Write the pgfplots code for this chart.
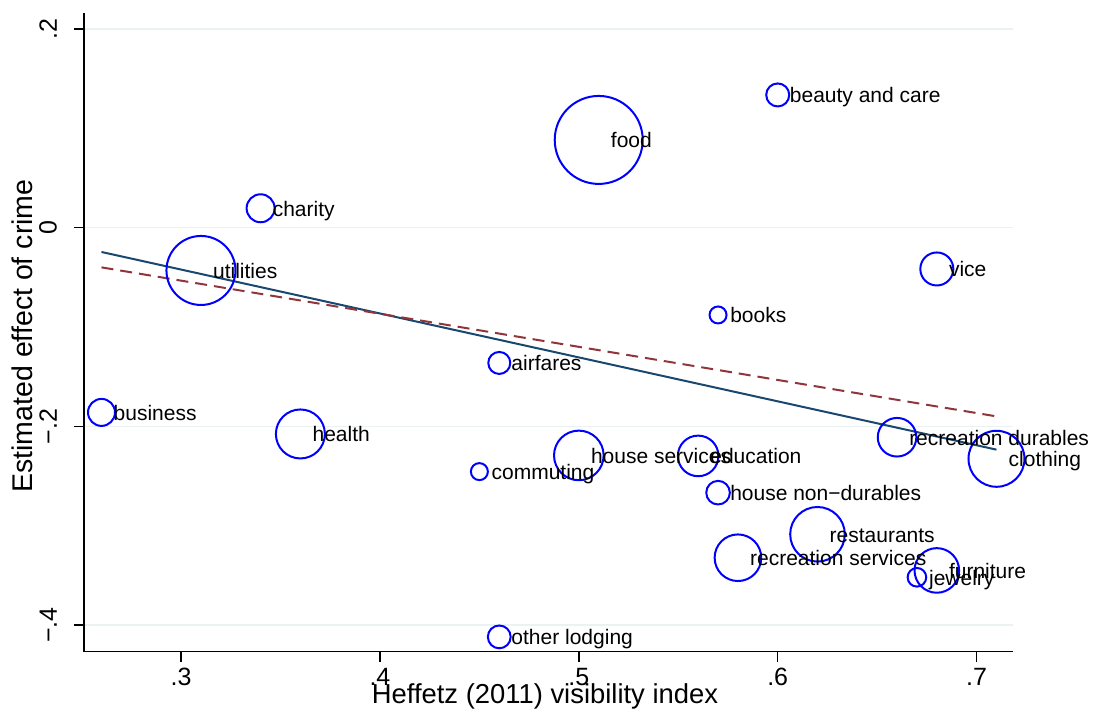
\documentclass[border=0pt]{standalone}
\usepackage{fontspec}
\setmainfont{Liberation Sans}
\usepackage{pgfplots}
\pgfplotsset{compat=1.18}
\usepackage{pgfplotstable}
\definecolor{stnavy}{RGB}{26,71,111}
\definecolor{stmaroon}{RGB}{144,53,59}
\definecolor{stgrid}{RGB}{234,242,243}
\definecolor{mblue}{RGB}{0,0,255}

\pgfplotstableread[col sep=comma]{
x,y,r,label
0.26,-0.186,13.5,business
0.36,-0.2077,24.5,health
0.31,-0.0431,34.5,utilities
0.34,0.0195,14,charity
0.51,0.0883,44,food
0.60,0.1336,11.5,beauty and care
0.68,-0.0416,16.5,vice
0.57,-0.0879,8.5,books
0.46,-0.1362,11,airfares
0.45,-0.2456,8.5,commuting
0.50,-0.2293,24.8,house services
0.56,-0.2298,20.3,education
0.57,-0.2668,11.8,house non−durables
0.66,-0.2110,19.3,recreation durables
0.71,-0.2327,28,clothing
0.62,-0.3087,27.3,restaurants
0.58,-0.3323,23.3,recreation services
0.68,-0.3451,22.3,furniture
0.67,-0.3520,9.3,jewelry
0.46,-0.4120,11.4,other lodging
}\cats

\begin{document}
\begin{tikzpicture}
\path[use as bounding box] (0,0) rectangle (1093pt,720pt);
\begin{axis}[
  at={(84pt,68.3pt)}, anchor=south west,
  scale only axis, width=929pt, height=639pt,
  xmin=0.2512, xmax=0.7183, ymin=-0.4269, ymax=0.2164,
  axis x line=bottom, axis y line=left,
  axis line style={-, line width=1.6pt, black},
  xtick={0.3,0.4,0.5,0.6,0.7}, xticklabels={.3,.4,.5,.6,.7},
  ytick={-0.4,-0.2,0,0.2}, yticklabels={−.4,−.2,0,.2},
  tick align=outside, major tick length=10pt,
  every tick/.style={black, line width=1.4pt},
  ymajorgrids, grid style={stgrid, line width=1.6pt},
  ticklabel style={font=\fontsize{25}{30}\selectfont},
  xticklabel style={anchor=north, inner sep=0pt, yshift=-6pt},
  yticklabel style={rotate=90, anchor=south, inner sep=0pt, yshift=17pt},
  xlabel={Heffetz (2011) visibility index},
  ylabel={Estimated effect of crime},
  xlabel style={font=\fontsize{27.4}{32}\selectfont, at={(axis description cs:0.4962,-0.0803)}, anchor=base, inner sep=0pt},
  ylabel style={font=\fontsize{28.5}{32}\selectfont, at={(axis description cs:-0.0549,0.494)}, anchor=base, inner sep=0pt},
  clip=false,
]
\addplot[scatter, only marks, mark=o,
  scatter/use mapped color={draw=mblue, fill=none},
  mark options={line width=2pt},
  point meta=explicit, point meta min=0, point meta max=1000,
  scatter/@pre marker code/.append style={/tikz/mark size=\pgfplotspointmetatransformed pt},
] table[x=x, y=y, meta=r] {\cats};
\addplot[only marks, mark=none,
  point meta=explicit symbolic,
  nodes near coords,
  every node near coord/.append style={anchor=base west, xshift=12pt, yshift=-8pt, font=\fontsize{21}{25}\selectfont, text=black, inner sep=0pt},
] table[x=x, y=y, meta=label] {\cats};
\addplot[stnavy, line width=2pt] coordinates {(0.26,-0.0245) (0.71,-0.2235)};
\addplot[stmaroon, line width=2pt, dash pattern=on 12pt off 7pt] coordinates {(0.26,-0.040) (0.71,-0.190)};
\end{axis}
\end{tikzpicture}
\end{document}
